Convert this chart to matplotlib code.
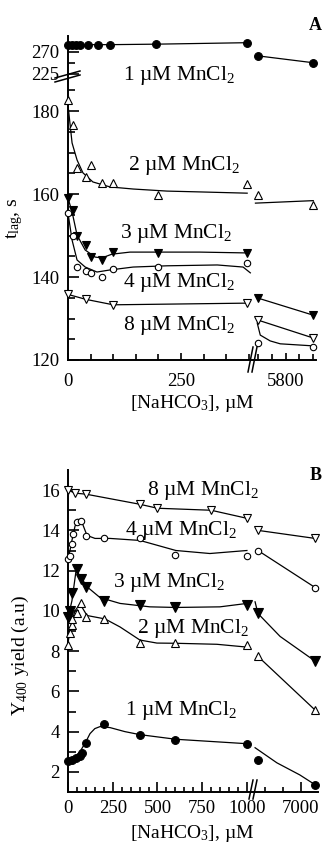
import numpy as np
import matplotlib
matplotlib.use('Agg')
import matplotlib.pyplot as plt
from matplotlib.lines import Line2D

plt.rcParams['font.family'] = ['Liberation Serif', 'DejaVu Serif']
plt.rcParams['mathtext.fontset'] = 'custom'
plt.rcParams['mathtext.rm'] = 'Liberation Serif'
plt.rcParams['mathtext.it'] = 'Liberation Serif:italic'
plt.rcParams['mathtext.bf'] = 'Liberation Serif:bold'
plt.rcParams['mathtext.default'] = 'regular'
plt.rcParams['font.size'] = 13.5

# ---------------- Panel A data: lag time (s) vs [NaHCO3] (uM) ----------------
a1_x = [0, 9, 18, 27, 44, 66, 93, 195, 395]
a1_y = [285, 285, 285, 285, 285, 285, 285, 286, 289]
a1_xr = [5600, 6000]
a1_yr = [262, 248]

a2_x = [0, 10, 20, 40, 50, 75, 100, 200, 395]
a2_y = [182.7, 176.6, 166.3, 164.1, 167.0, 162.7, 162.7, 159.8, 162.4]
a2_fit_x = [0, 9, 20, 33, 55, 93, 144, 219, 292, 396]
a2_fit_y = [181.4, 172.3, 168.2, 165.1, 162.9, 161.7, 161.2, 160.7, 160.5, 160.2]
a2_xr = [5600, 6000]
a2_yr = [159.8, 157.3]
a2_fit_xr = [5580, 6000]
a2_fit_yr = [157.8, 158.4]

a3_x = [0, 10, 20, 40, 50, 75, 100, 200, 395]
a3_y = [159.0, 156.1, 149.9, 147.7, 144.8, 144.1, 146.0, 145.8, 145.8]
a3_fit_x = [0, 9, 20, 38, 60, 75, 97, 137, 292, 395]
a3_fit_y = [159.0, 155.7, 150.1, 146.5, 144.8, 144.6, 145.5, 146.0, 146.0, 145.8]
a3_xr = [5600, 6000]
a3_yr = [134.9, 130.8]

a4_x = [0, 10, 20, 40, 50, 75, 100, 200, 395]
a4_y = [155.4, 149.9, 142.4, 141.4, 141.0, 140.0, 141.9, 142.4, 143.4]
a4_fit_x = [0, 9, 20, 38, 64, 93, 144, 219, 330, 387, 403]
a4_fit_y = [155.4, 148.9, 144.1, 142.4, 141.2, 141.7, 142.4, 142.7, 142.9, 142.4, 141.0]
a4_xr = [5600, 6000]
a4_yr = [124.1, 123.1]
a4_fit_xr = [5593, 5615, 5687, 5760, 6000]
a4_fit_yr = [128.9, 126.0, 124.6, 123.9, 123.4]

a8_x = [0, 40, 100, 395]
a8_y = [135.8, 134.6, 133.3, 133.7]
a8_xr = [5600, 6000]
a8_yr = [129.6, 125.3]

A_xticks = [0, 250, 5800]
A_xticklabels = ['0', '250', '5800']
A_yticks = [120, 140, 160, 180, 225, 270]
A_yticklabels = ['120', '140', '160', '180', '225', '270']

# ---------------- Panel B data: Y400 yield (a.u.) vs [NaHCO3] (uM) ----------------
b1_x = [0, 20, 45, 65, 80, 100, 200, 400, 600, 1000]
b1_y = [2.55, 2.6, 2.7, 2.8, 2.95, 3.45, 4.4, 3.85, 3.6, 3.4]
b1_fit_x = [0, 40, 67, 100, 123, 150, 179, 235, 318, 402, 603, 1000]
b1_fit_y = [2.55, 2.7, 3.0, 3.5, 3.9, 4.15, 4.25, 4.2, 4.0, 3.85, 3.62, 3.4]
b1_xr = [5800, 7400]
b1_yr = [2.6, 1.36]
b1_fit_xr = [5720, 6330, 6970, 7400]
b1_fit_yr = [3.2, 2.45, 1.85, 1.36]

b2_x = [0, 10, 20, 25, 50, 75, 100, 200, 400, 600, 1000]
b2_y = [8.3, 8.9, 9.3, 9.6, 9.9, 10.4, 9.7, 9.6, 8.4, 8.4, 8.3]
b2_fit_x = [0, 11, 22, 39, 67, 106, 207, 291, 402, 497, 603, 832, 1000]
b2_fit_y = [8.4, 9.0, 9.5, 10.0, 10.35, 9.77, 9.6, 9.2, 8.55, 8.4, 8.39, 8.34, 8.2]
b2_xr = [5800, 7400]
b2_yr = [7.74, 5.07]

b3_x = [0, 10, 25, 50, 75, 100, 200, 400, 600, 1000]
b3_y = [9.7, 10.0, 10.9, 12.1, 11.6, 11.2, 10.5, 10.3, 10.2, 10.3]
b3_fit_x = [0, 22, 45, 67, 106, 179, 291, 458, 603, 849, 1000]
b3_fit_y = [9.67, 10.5, 12.0, 11.75, 11.2, 10.66, 10.37, 10.2, 10.17, 10.2, 10.37]
b3_xr = [5800, 7400]
b3_yr = [9.87, 7.5]
b3_fit_xr = [5720, 5800, 6420, 7400]
b3_fit_yr = [10.45, 9.87, 8.73, 7.5]

b4_x = [0, 10, 20, 30, 50, 75, 100, 200, 400, 600, 1000]
b4_y = [12.6, 12.75, 13.3, 13.8, 14.4, 14.45, 13.7, 13.6, 13.6, 12.8, 12.75]
b4_fit_x = [0, 11, 22, 39, 56, 78, 106, 151, 235, 402, 603, 793, 1000]
b4_fit_y = [12.6, 13.0, 13.5, 14.2, 14.55, 14.4, 13.75, 13.6, 13.6, 13.5, 13.0, 12.85, 13.0]
b4_xr = [5800, 7400]
b4_yr = [13.0, 11.16]

b8_x = [0, 40, 100, 400, 500, 800, 1000]
b8_y = [16.0, 15.85, 15.8, 15.3, 15.1, 15.0, 14.6]
b8_xr = [5800, 7400]
b8_yr = [14.0, 13.6]

B_xticks = [0, 250, 500, 750, 1000, 7000]
B_xticklabels = ['0', '250', '500', '750', '1000', '7000']
B_yticks = [2, 4, 6, 8, 10, 12, 14, 16]

# ---------------- broken-axis scales ----------------
def make_scale(b0, b1, k):
    xp = np.array([-1e6, b0, b1, 1e6])
    fp = np.array([-1e6, b0, b0 + 0.01, b0 + 0.01 + (1e6 - b1) * k])
    def fwd(v):
        return np.interp(v, xp, fp)
    def inv(u):
        return np.interp(u, fp, xp)
    return fwd, inv

Ax_f, Ax_i = make_scale(407, 5556, 0.3042)
Bx_f, Bx_i = make_scale(1028, 5632, 0.19983)

def Ay_f(v):
    return np.interp(v, [-1e4, 186, 225, 1e4], [-1e4, 186, 188.92, 188.92 + (1e4 - 225) * 0.1178])
def Ay_i(u):
    return np.interp(u, [-1e4, 186, 188.92, 188.92 + (1e4 - 225) * 0.1178], [-1e4, 186, 225, 1e4])

W, H = 323, 848
fig = plt.figure(figsize=(W / 100, H / 100), dpi=100)
fx = lambda px: px / W
fy = lambda py: 1 - py / H

axA = fig.add_axes([fx(68), fy(360), 248 / W, 324 / H])
axB = fig.add_axes([fx(68), fy(792), 250 / W, 322 / H])

for ax in (axA, axB):
    for s in ('top', 'right'):
        ax.spines[s].set_visible(False)
    for s in ('left', 'bottom'):
        ax.spines[s].set_linewidth(1.4)

axA.set_xscale('function', functions=(Ax_f, Ax_i))
axA.set_yscale('function', functions=(Ay_f, Ay_i))
axB.set_xscale('function', functions=(Bx_f, Bx_i))

STY = {
    1: dict(marker='o', mfc='black', mec='black', ms=5.6),
    2: dict(marker='^', mfc='white', mec='black', ms=5.2),
    3: dict(marker='v', mfc='black', mec='black', ms=5.8),
    4: dict(marker='o', mfc='white', mec='black', ms=4.6),
    8: dict(marker='v', mfc='white', mec='black', ms=5.2),
}

def pts(ax, x, y, c, **kw):
    st = dict(STY[c]); st.update(kw)
    ax.plot(x, y, linestyle='none', mew=0.8, clip_on=False, zorder=5, **st)

def line(ax, x, y):
    ax.plot(x, y, color='black', lw=0.9, clip_on=False, zorder=3)

# Panel A
line(axA, a1_x[4:], a1_y[4:]); line(axA, a1_xr, a1_yr)
pts(axA, a1_x, a1_y, 1); pts(axA, a1_xr, a1_yr, 1)
line(axA, a2_fit_x, a2_fit_y); line(axA, a2_fit_xr, a2_fit_yr)
pts(axA, a2_x, a2_y, 2); pts(axA, a2_xr, a2_yr, 2)
line(axA, a3_fit_x, a3_fit_y); line(axA, a3_xr, a3_yr)
pts(axA, a3_x, a3_y, 3); pts(axA, a3_xr, a3_yr, 3)
line(axA, a4_fit_x, a4_fit_y); line(axA, a4_fit_xr, a4_fit_yr)
pts(axA, a4_x, a4_y, 4); pts(axA, a4_xr, a4_yr, 4)
line(axA, a8_x, a8_y); line(axA, a8_xr, a8_yr)
pts(axA, a8_x, a8_y, 8); pts(axA, a8_xr, a8_yr, 8)

axA.set_xlim(0, 6020)
axA.set_ylim(120, 302.7)
axA.set_xticks(A_xticks, A_xticklabels)
axA.set_xticks([50, 100, 150, 200, 300, 350, 400, 5600, 5700, 5900, 6000], minor=True)
axA.set_yticks(A_yticks, A_yticklabels)
axA.set_yticks([125, 130, 135, 145, 150, 155, 165, 170, 175, 185, 247.5], minor=True)
axA.tick_params(axis='x', which='major', direction='in', length=5, width=1.2, pad=9)
axA.tick_params(axis='x', which='minor', direction='in', length=4.5, width=1.2)
axA.tick_params(axis='y', which='major', direction='in', length=8, width=1.2, pad=6)
axA.tick_params(axis='y', which='minor', direction='in', length=5, width=1.2)

# Panel B
line(axB, b1_fit_x, b1_fit_y); line(axB, b1_fit_xr, b1_fit_yr)
pts(axB, b1_x, b1_y, 1); pts(axB, b1_xr, b1_yr, 1)
line(axB, b2_fit_x, b2_fit_y); line(axB, b2_xr, b2_yr)
pts(axB, b2_x, b2_y, 2); pts(axB, b2_xr, b2_yr, 2)
line(axB, b3_fit_x, b3_fit_y); line(axB, b3_fit_xr, b3_fit_yr)
pts(axB, b3_x, b3_y, 3, ms=7.5); pts(axB, b3_xr, b3_yr, 3, ms=7.5)
line(axB, b4_fit_x, b4_fit_y); line(axB, b4_xr, b4_yr)
pts(axB, b4_x, b4_y, 4); pts(axB, b4_xr, b4_yr, 4)
line(axB, b8_x, b8_y); line(axB, b8_xr, b8_yr)
pts(axB, b8_x, b8_y, 8); pts(axB, b8_xr, b8_yr, 8)

axB.set_xlim(0, 7480)
axB.set_ylim(1, 17)
axB.set_xticks(B_xticks, B_xticklabels)
axB.set_xticks([50, 100, 150, 200, 300, 350, 400, 450, 550, 600, 650, 700, 800, 850, 900, 950,
                6000, 6500], minor=True)
axB.set_yticks(B_yticks, [str(t) for t in B_yticks])
axB.set_yticks([3, 5, 7, 9, 11, 13, 15], minor=True)
axB.tick_params(axis='x', which='major', direction='in', length=7, width=1.2, pad=6)
axB.tick_params(axis='x', which='minor', direction='in', length=3.5, width=1.2)
axB.tick_params(axis='y', which='major', direction='in', length=8, width=1.2, pad=6)
axB.tick_params(axis='y', which='minor', direction='in', length=6, width=1.2)

# break marks
def seg(p0, p1, lw=1.1):
    fig.add_artist(Line2D([fx(p0[0]), fx(p1[0])], [fy(p0[1]), fy(p1[1])],
                          transform=fig.transFigure, color='black', lw=lw))
seg((248, 372), (253, 347)); seg((252, 372), (257, 347))
seg((249, 799), (253, 780)); seg((253, 799), (257, 780))
seg((55, 82), (80, 75)); seg((55, 78), (80, 71))

# annotations
ann = 15.5
TXT = '\u00b5M MnCl$_2$'
for (x, yb, n) in [(123, 80, 1), (128, 170, 2), (120, 238, 3), (123, 287, 4), (123, 330, 8),
                   (147, 495, 8), (125, 535, 4), (113, 587, 3), (137, 633, 2), (125, 715, 1)]:
    fig.text(fx(x), fy(yb), f'{n} ' + TXT, fontsize=ann, ha='left', va='baseline')

fig.text(fx(322), fy(30), 'A', fontsize=13, fontweight='bold', ha='right', va='baseline')
fig.text(fx(322), fy(480), 'B', fontsize=13, fontweight='bold', ha='right', va='baseline')

fig.text(fx(192), fy(408), '[NaHCO$_3$], \u00b5M', fontsize=14, ha='center', va='baseline')
fig.text(fx(192), fy(838), '[NaHCO$_3$], \u00b5M', fontsize=14, ha='center', va='baseline')
fig.text(fx(15), fy(218), 't$_{lag}$, s', fontsize=14, rotation=90, ha='center', va='center')
fig.text(fx(20), fy(655), 'Y$_{400}$ yield (a.u)', fontsize=14, rotation=90, ha='center', va='center')

fig.savefig('out.png', dpi=100)
